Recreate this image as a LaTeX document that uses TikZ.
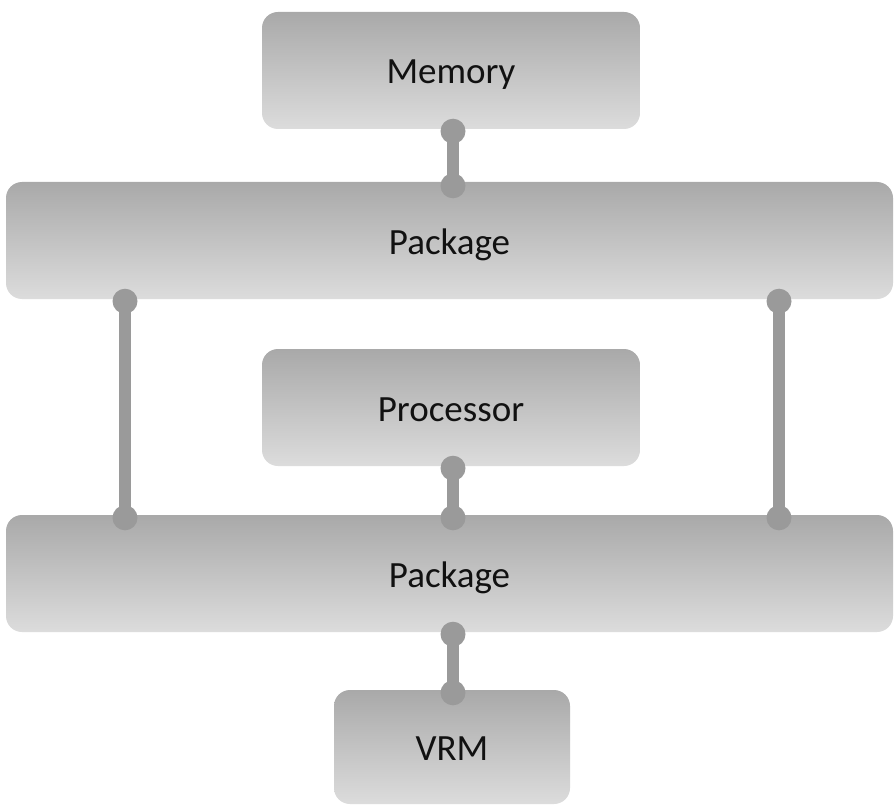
\documentclass[tikz,border=0pt]{standalone}
\usepackage{fontspec}
\setmainfont{Carlito}
\begin{document}
\begin{tikzpicture}[x=1pt,y=-1pt,
  blk/.style={rounded corners=16pt, top color=boxtop, bottom color=boxbot,
    draw=none, inner sep=0pt, text=txtc, text height=27pt, text depth=0pt,
    font=\fontsize{37}{40}\selectfont},
  link/.style={draw=linkc, line width=12pt},
  pin/.style={fill=linkc, draw=none}]
\definecolor{boxtop}{HTML}{A9A9A9}
\definecolor{boxbot}{HTML}{DCDCDC}
\definecolor{linkc}{HTML}{9A9A9A}
\definecolor{txtc}{HTML}{111111}
\useasboundingbox (0,0) rectangle (896,805);
\fill[white] (0,0) rectangle (896,805);
% blocks
\node[blk, minimum width=378pt, minimum height=117pt] (mem) at (451,70.5) {Memory};
\node[blk, minimum width=887pt, minimum height=117pt] (pk1) at (449.5,240.5) {Package};
\node[blk, minimum width=378pt, minimum height=117pt] (cpu) at (451,407.5) {Processor};
\node[blk, minimum width=887pt, minimum height=117pt] (pk2) at (449.5,573.5) {Package};
\node[blk, minimum width=236pt, minimum height=114pt] (vrm) at (452,747) {VRM};
% connectors with round pins at both ends
\coordinate (a1) at ([yshift=-2pt]mem.south -| 453,0);
\coordinate (a2) at ([yshift=-4pt]pk1.north -| 453,0);
\draw[link] (a1) -- (a2);
\fill[pin] (a1) circle (12.5pt) (a2) circle (12.5pt);
\coordinate (l1) at ([yshift=-2pt]pk1.south -| 125,0);
\coordinate (l2) at ([yshift=-3pt]pk2.north -| 125,0);
\draw[link] (l1) -- (l2);
\fill[pin] (l1) circle (12.5pt) (l2) circle (12.5pt);
\coordinate (r1) at ([yshift=-2pt]pk1.south -| 779,0);
\coordinate (r2) at ([yshift=-3pt]pk2.north -| 779,0);
\draw[link] (r1) -- (r2);
\fill[pin] (r1) circle (12.5pt) (r2) circle (12.5pt);
\coordinate (c1) at ([yshift=-2pt]cpu.south -| 453,0);
\coordinate (c2) at ([yshift=-3pt]pk2.north -| 453,0);
\draw[link] (c1) -- (c2);
\fill[pin] (c1) circle (12.5pt) (c2) circle (12.5pt);
\coordinate (v1) at ([yshift=-2pt]pk2.south -| 453,0);
\coordinate (v2) at ([yshift=-3pt]vrm.north -| 453,0);
\draw[link] (v1) -- (v2);
\fill[pin] (v1) circle (12.5pt) (v2) circle (12.5pt);
\end{tikzpicture}
\end{document}
